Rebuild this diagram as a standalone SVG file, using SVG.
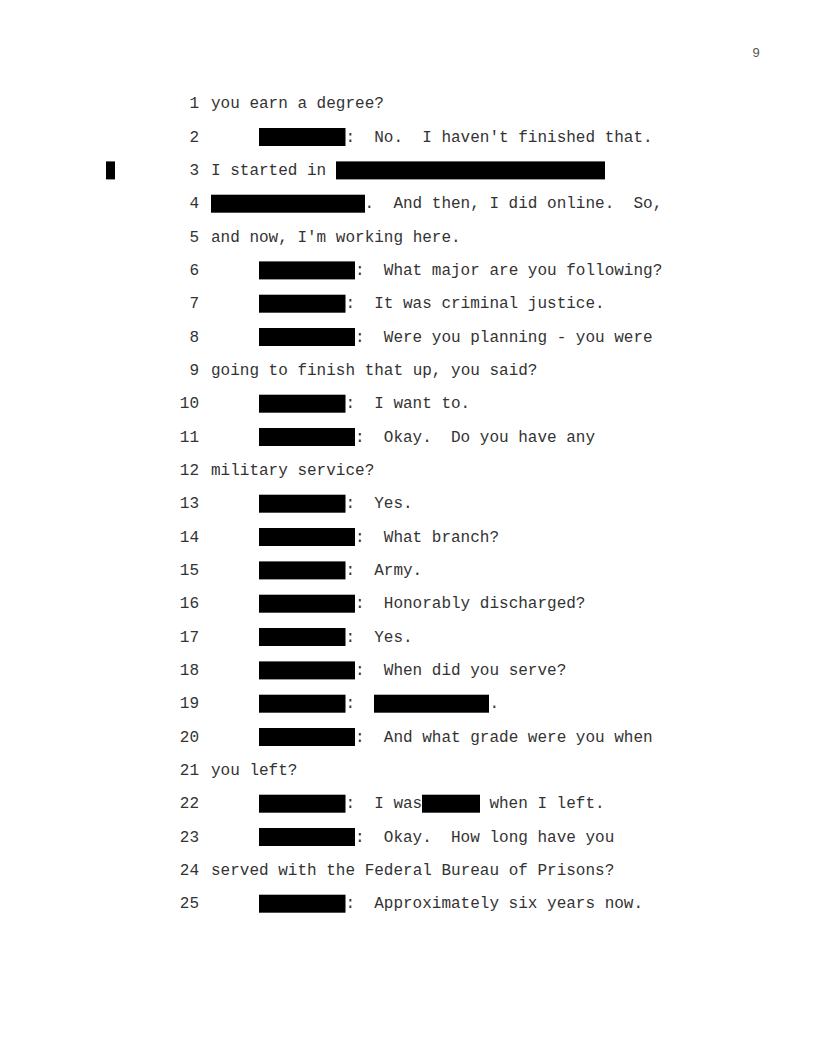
<svg xmlns="http://www.w3.org/2000/svg" width="816" height="1056" viewBox="0 0 816 1056">
<style>
text{font-family:"Liberation Mono","Courier New",monospace;font-size:16px;fill:#333;white-space:pre}
.n{text-anchor:end}
.pg{font-family:"Liberation Sans",Arial,sans-serif;font-size:13px;fill:#555}
rect{fill:#000}
</style>
<rect x="0" y="0" width="816" height="1056" style="fill:#fff"/>
<text class="pg" x="752.5" y="56.5">9</text>
<g id="numbers">
<text class="n" x="199" y="108.2">1</text>
<text class="n" x="199" y="141.5">2</text>
<text class="n" x="199" y="174.9">3</text>
<text class="n" x="199" y="208.2">4</text>
<text class="n" x="199" y="241.5">5</text>
<text class="n" x="199" y="274.9">6</text>
<text class="n" x="199" y="308.2">7</text>
<text class="n" x="199" y="341.5">8</text>
<text class="n" x="199" y="374.9">9</text>
<text class="n" x="199" y="408.2">10</text>
<text class="n" x="199" y="441.5">11</text>
<text class="n" x="199" y="474.9">12</text>
<text class="n" x="199" y="508.2">13</text>
<text class="n" x="199" y="541.5">14</text>
<text class="n" x="199" y="574.9">15</text>
<text class="n" x="199" y="608.2">16</text>
<text class="n" x="199" y="641.5">17</text>
<text class="n" x="199" y="674.9">18</text>
<text class="n" x="199" y="708.2">19</text>
<text class="n" x="199" y="741.5">20</text>
<text class="n" x="199" y="774.9">21</text>
<text class="n" x="199" y="808.2">22</text>
<text class="n" x="199" y="841.5">23</text>
<text class="n" x="199" y="874.9">24</text>
<text class="n" x="199" y="908.2">25</text>
</g>
<g id="redactions">
<rect x="106" y="161.4" width="9" height="18"/>
<rect x="259" y="128" width="86.5" height="18"/>
<rect x="336" y="161.4" width="269" height="18"/>
<rect x="211" y="194.7" width="154" height="18"/>
<rect x="259" y="261.4" width="96" height="18"/>
<rect x="259" y="294.7" width="86.5" height="18"/>
<rect x="259" y="328" width="96" height="18"/>
<rect x="259" y="394.7" width="86.5" height="18"/>
<rect x="259" y="428" width="96" height="18"/>
<rect x="259" y="494.7" width="86.5" height="18"/>
<rect x="259" y="528" width="96" height="18"/>
<rect x="259" y="561.4" width="86.5" height="18"/>
<rect x="259" y="594.7" width="96" height="18"/>
<rect x="259" y="628" width="86.5" height="18"/>
<rect x="259" y="661.4" width="96" height="18"/>
<rect x="259" y="694.7" width="86.5" height="18"/>
<rect x="374" y="694.7" width="115" height="18"/>
<rect x="259" y="728" width="96" height="18"/>
<rect x="259" y="794.7" width="86.5" height="18"/>
<rect x="422" y="794.7" width="58" height="18"/>
<rect x="259" y="828" width="96" height="18"/>
<rect x="259" y="894.7" width="86.5" height="18"/>
</g>
<g id="lines">
<text x="211" y="108.2">you earn a degree?</text>
<text x="345.4" y="141.5">:  No.  I haven't finished that.</text>
<text x="211" y="174.9">I started in</text>
<text x="364.6" y="208.2">.  And then, I did online.  So,</text>
<text x="211" y="241.5">and now, I'm working here.</text>
<text x="355" y="274.9">:  What major are you following?</text>
<text x="345.4" y="308.2">:  It was criminal justice.</text>
<text x="355" y="341.5">:  Were you planning - you were</text>
<text x="211" y="374.9">going to finish that up, you said?</text>
<text x="345.4" y="408.2">:  I want to.</text>
<text x="355" y="441.5">:  Okay.  Do you have any</text>
<text x="211" y="474.9">military service?</text>
<text x="345.4" y="508.2">:  Yes.</text>
<text x="355" y="541.5">:  What branch?</text>
<text x="345.4" y="574.9">:  Army.</text>
<text x="355" y="608.2">:  Honorably discharged?</text>
<text x="345.4" y="641.5">:  Yes.</text>
<text x="355" y="674.9">:  When did you serve?</text>
<text x="345.4" y="708.2">:</text>
<text x="489.4" y="708.2">.</text>
<text x="355" y="741.5">:  And what grade were you when</text>
<text x="211" y="774.9">you left?</text>
<text x="345.4" y="808.2">:  I was</text>
<text x="489.4" y="808.2">when I left.</text>
<text x="355" y="841.5">:  Okay.  How long have you</text>
<text x="211" y="874.9">served with the Federal Bureau of Prisons?</text>
<text x="345.4" y="908.2">:  Approximately six years now.</text>
</g>
</svg>
